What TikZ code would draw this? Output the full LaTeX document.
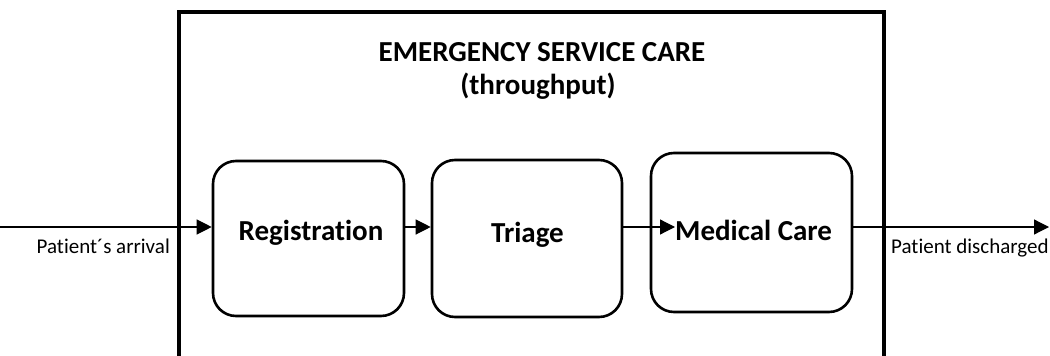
\documentclass[tikz,border=0pt]{standalone}
\usepackage{fontspec}
\setmainfont[Ligatures={NoCommon}]{Carlito}
\usetikzlibrary{arrows.meta}
\begin{document}
\begin{tikzpicture}[x=1pt,y=-1pt,
  stage/.style={draw,line width=2.6pt,rounded corners=23pt,inner sep=0pt},
  stagetext/.style={font=\fontsize{29}{34}\selectfont\bfseries,inner sep=0pt},
  flow/.style={line width=1.2pt,-{Triangle[length=15pt,width=15pt]}},
  lbl/.style={font=\fontsize{21}{25}\selectfont,inner sep=0pt},
  ttl/.style={font=\fontsize{29}{34}\selectfont\bfseries,inner sep=0pt}]
\useasboundingbox (0,0) rectangle (1050,356);
\draw[line width=4pt] (178.5,370) -- (178.5,12) -- (884,12) -- (884,370);
\node[ttl,anchor=base] (t1) at (542,61) {EMERGENCY SERVICE CARE};
\node[ttl,anchor=base] (t2) at (538,94) {(throughput)};
\node[stage,minimum width=191pt,minimum height=155pt] (reg) at (308.5,238.5) {};
\node[stage,minimum width=190pt,minimum height=157pt] (tri) at (527,238.5) {};
\node[stage,minimum width=201pt,minimum height=159pt] (med) at (751.5,232.5) {};
\node[stagetext,anchor=base] (regt) at (311,240) {Registration};
\node[stagetext,anchor=base] (trit) at (527.5,242) {Triage};
\node[stagetext,anchor=base west] (medt) at (675,240) {Medical Care};
\coordinate (in) at (0,227);
\coordinate (out) at (1049,227);
\draw[flow] (in) -- (reg.west |- in);
\draw[flow] (reg.east |- in) -- (tri.west |- in);
\draw[flow] (tri.east |- in) -- (medt.west |- in);
\draw[flow] (med.east |- in) -- (out);
\node[lbl,anchor=base east] (arr) at (170,253) {Patient´s arrival};
\node[lbl,anchor=base west] (dis) at (891,253) {Patient discharged};
\end{tikzpicture}
\end{document}
